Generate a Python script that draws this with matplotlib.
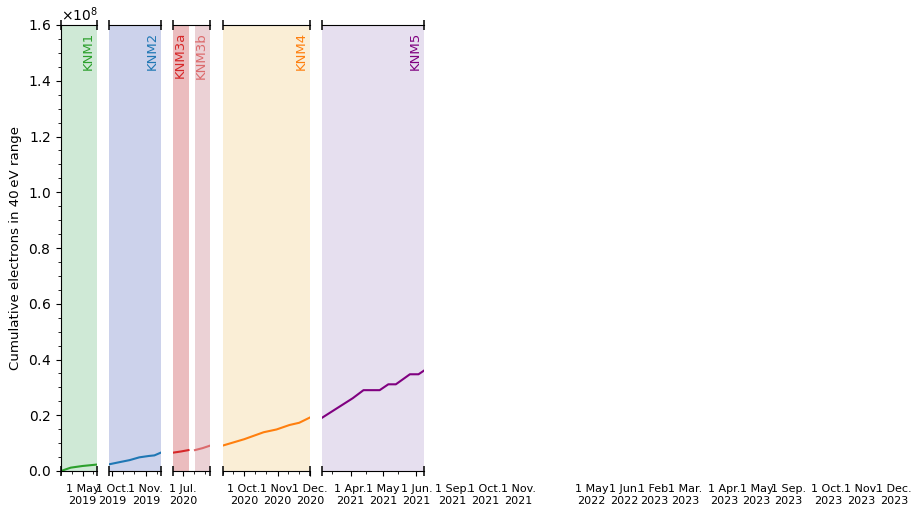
import matplotlib.pyplot as plt
import matplotlib.dates as mdates
from matplotlib.ticker import AutoMinorLocator, FuncFormatter
import pandas as pd

# one broken-axis panel per measurement campaign
panels = ["KNM1", "KNM2", "KNM3", "KNM4", "KNM5", "KNM6", "KNM7", "KNM8", "KNM9",
          "KNM10", "KNM11"]
panel_start = ["2019-04-11", "2019-09-28", "2020-06-22", "2020-09-11", "2021-03-06",
               "2021-08-17", "2022-04-02", "2023-01-23", "2023-03-26", "2023-08-28",
               "2023-09-13"]
panel_end = ["2019-05-14", "2019-11-15", "2020-07-26", "2020-12-01", "2021-06-08",
             "2021-11-28", "2022-06-08", "2023-03-20", "2023-05-15", "2023-09-08",
             "2023-12-12"]
n_drawn = 5  # later campaigns have no data yet

# shaded measurement periods: (label, panel index, start, end, fill, text colour)
periods = [
    ("KNM1", 0, "2019-04-11", "2019-05-14", "#cfe9d6", "#2ca02c"),
    ("KNM2", 1, "2019-09-28", "2019-11-15", "#ccd2eb", "#1f77b4"),
    ("KNM3a", 2, "2020-06-22", "2020-07-06", "#ebbcbe", "#d62728"),
    ("KNM3b", 2, "2020-07-12", "2020-07-26", "#ebd1d5", "#dc6a6c"),
    ("KNM4", 3, "2020-09-11", "2020-12-01", "#faeed6", "#ff7f0e"),
    ("KNM5", 4, "2021-03-06", "2021-06-08", "#e6dfef", "#800080"),
]

# cumulative number of electrons in the 40 eV window
knm1_dates = ["2019-04-11", "2019-04-20", "2019-05-01", "2019-05-14"]
knm1_counts = [0.0e6, 1.2e6, 1.8e6, 2.3e6]
knm2_dates = ["2019-09-28", "2019-10-08", "2019-10-17", "2019-10-26", "2019-11-04",
              "2019-11-09", "2019-11-15"]
knm2_counts = [2.4e6, 3.2e6, 3.9e6, 4.9e6, 5.4e6, 5.6e6, 6.6e6]
knm3a_dates = ["2020-06-22", "2020-06-29", "2020-07-06"]
knm3a_counts = [6.6e6, 7.0e6, 7.5e6]
knm3b_dates = ["2020-07-12", "2020-07-19", "2020-07-26"]
knm3b_counts = [7.5e6, 8.2e6, 9.1e6]
knm4_dates = ["2020-09-11", "2020-10-01", "2020-10-19", "2020-10-31", "2020-11-12",
              "2020-11-21", "2020-12-01"]
knm4_counts = [9.1e6, 11.4e6, 13.9e6, 14.9e6, 16.5e6, 17.3e6, 19.2e6]
knm5_dates = ["2021-03-06", "2021-04-03", "2021-04-13", "2021-04-28", "2021-05-06",
              "2021-05-13", "2021-05-26", "2021-06-03", "2021-06-08"]
knm5_counts = [19.2e6, 26.1e6, 29.0e6, 29.0e6, 31.1e6, 31.1e6, 34.7e6, 34.7e6, 36.0e6]

series = [
    (0, knm1_dates, knm1_counts, "#2ca02c"),
    (1, knm2_dates, knm2_counts, "#1f77b4"),
    (2, knm3a_dates, knm3a_counts, "#d62728"),
    (2, knm3b_dates, knm3b_counts, "#dc6a6c"),
    (3, knm4_dates, knm4_counts, "#ff7f0e"),
    (4, knm5_dates, knm5_counts, "#800080"),
]

months = ["Jan.", "Feb.", "Mar.", "Apr.", "May", "Jun.", "Jul.", "Aug.",
          "Sep.", "Oct.", "Nov.", "Dec."]


def date_label(x, pos):
    d = mdates.num2date(x)
    return f"{d.day} {months[d.month - 1]}\n{d.year}"


plt.rcParams["font.size"] = 8
plt.rcParams["ytick.labelsize"] = 10
W, H = 914, 505
fig = plt.figure(figsize=(W / 100, H / 100), dpi=100)

left, bottom, top = 61, 34, 25
px_per_day = 1.079
gap = 12.5

axes = []
x0 = left
for i, (s, e) in enumerate(zip(panel_start, panel_end)):
    s, e = pd.Timestamp(s), pd.Timestamp(e)
    width = (e - s).days * px_per_day
    ax = fig.add_axes([x0 / W, bottom / H, width / W, (H - bottom - top) / H])
    ax.set_xlim(s, e)
    ax.set_ylim(0, 1.6e8)
    ax.xaxis.set_major_locator(mdates.MonthLocator(bymonthday=1))
    ax.xaxis.set_major_formatter(FuncFormatter(date_label))
    ax.tick_params(axis="x", which="major", pad=6)
    ax.spines["right"].set_visible(False)
    if i > 0:
        ax.spines["left"].set_visible(False)
        ax.tick_params(axis="y", which="both", left=False, labelleft=False)
    if i < n_drawn:
        if i == 4:
            ax.xaxis.set_minor_locator(mdates.DayLocator(bymonthday=[15]))
        else:
            ax.xaxis.set_minor_locator(mdates.DayLocator(bymonthday=[11, 21]))
        for yy in (0, 1):
            ax.plot([0, 1], [yy, yy], transform=ax.transAxes, ls="none", marker="|",
                    ms=6.5, mew=1.1, color="k", clip_on=False)
    else:
        ax.patch.set_visible(False)
        for sp in ax.spines.values():
            sp.set_visible(False)
        ax.tick_params(axis="x", which="both", color="none")
    axes.append(ax)
    x0 += width + gap

ax0 = axes[0]
ax0.yaxis.set_minor_locator(AutoMinorLocator(4))
ax0.ticklabel_format(axis="y", useMathText=True)
ax0.set_ylabel("Cumulative electrons in 40\u2009eV range", fontsize=9.6)

for label, i, s, e, fill, tc in periods:
    ax = axes[i]
    ax.axvspan(pd.Timestamp(s), pd.Timestamp(e), color=fill, lw=0, zorder=0)
    ax.annotate(label, xy=(pd.Timestamp(e), 1), xycoords=("data", "axes fraction"),
                xytext=(-1.5, -5), textcoords="offset points", rotation=90,
                ha="right", va="top", color=tc, fontsize=9.5)

for i, d, c, col in series:
    axes[i].plot(pd.to_datetime(d), c, color=col, lw=1.5)

fig.savefig("out.png", dpi=100)
